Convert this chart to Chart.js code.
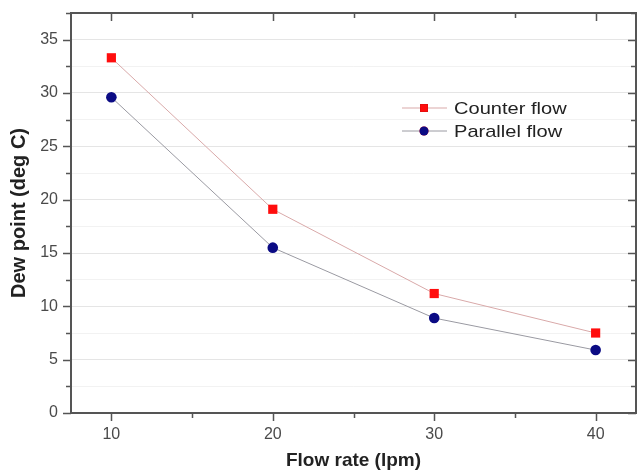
<!DOCTYPE html>
<html>
<head>
<meta charset="utf-8">
<script src="https://cdn.jsdelivr.net/npm/chart.js@4"></script>
<style>
  body { margin: 0; background: #fff; }
  #wrap { width: 644px; height: 472px; }
</style>
</head>
<body>
<div id="wrap"><canvas id="dewChart" width="644" height="472"></canvas></div>
<script>
const flowRates = [10, 20, 30, 40];
const counterFlow = [33.3, 19.1, 11.2, 7.5];
const parallelFlow = [29.6, 15.5, 8.9, 5.9];
const yTicks = [0, 5, 10, 15, 20, 25, 30, 35];
const xTicks = [10, 20, 30, 40];

const FONT = "'Liberation Sans', Arial, sans-serif";

function toPoints(values) {
  return flowRates.map((x, i) => ({ x: x, y: values[i] }));
}

// frame, ticks (outside on left/bottom, inside on top/right) and legend
const framePlugin = {
  id: "frame",
  afterDraw(chart) {
    const ctx = chart.ctx;
    const area = chart.chartArea;
    const xs = chart.scales.x;
    const ys = chart.scales.y;
    ctx.save();
    ctx.strokeStyle = "#555";
    ctx.lineWidth = 2;
    ctx.strokeRect(area.left, area.top, area.right - area.left, area.bottom - area.top);

    ctx.lineWidth = 1.5;
    ctx.beginPath();
    for (let v = 0; v <= 37.5; v += 2.5) {
      const y = Math.round(ys.getPixelForValue(v)) + 0.5;
      const len = v % 5 === 0 ? 8 : 5;
      ctx.moveTo(area.left, y); ctx.lineTo(area.left - len, y);
      ctx.moveTo(area.right, y); ctx.lineTo(area.right - len, y);
    }
    for (let v = 10; v <= 40; v += 5) {
      const x = Math.round(xs.getPixelForValue(v)) + 0.5;
      const len = v % 10 === 0 ? 8 : 5;
      ctx.moveTo(x, area.bottom); ctx.lineTo(x, area.bottom + len);
      ctx.moveTo(x, area.top); ctx.lineTo(x, area.top + len);
    }
    ctx.stroke();

    // legend (text slightly stretched like the original)
    const legendX = 402;
    chart.data.datasets.forEach((ds, i) => {
      const y = 108 + i * 23;
      ctx.strokeStyle = ds.borderColor;
      ctx.lineWidth = 1;
      ctx.beginPath();
      ctx.moveTo(legendX, y);
      ctx.lineTo(legendX + 45, y);
      ctx.stroke();
      Chart.helpers.drawPoint(ctx, {
        pointStyle: ds.pointStyle,
        radius: ds.pointRadius * 0.85,
        borderWidth: 0
      }, legendX + 22, y);
      ctx.fillStyle = ds.pointBackgroundColor;
      ctx.fill();
      ctx.save();
      ctx.translate(legendX + 52, y + 1);
      ctx.scale(1.18, 1);
      ctx.fillStyle = "#222";
      ctx.font = "17px " + FONT;
      ctx.textBaseline = "middle";
      ctx.fillText(ds.label, 0, 0);
      ctx.restore();
    });
    ctx.restore();
  }
};

new Chart(document.getElementById("dewChart"), {
  type: "line",
  data: {
    datasets: [
      {
        label: "Counter flow",
        data: toPoints(counterFlow),
        borderColor: "#d9a9a9",
        borderWidth: 1,
        pointStyle: "rect",
        pointRadius: 6.5,
        pointBackgroundColor: "#ff0d0d",
        pointBorderWidth: 0
      },
      {
        label: "Parallel flow",
        data: toPoints(parallelFlow),
        borderColor: "#9a9aa2",
        borderWidth: 1,
        pointStyle: "circle",
        pointRadius: 5.3,
        pointBackgroundColor: "#0b0b84",
        pointBorderWidth: 0
      }
    ]
  },
  options: {
    responsive: false,
    animation: false,
    layout: { padding: { top: 13, right: 8, left: 0, bottom: 0 } },
    plugins: { legend: { display: false }, tooltip: { enabled: false } },
    scales: {
      x: {
        type: "linear",
        min: 7.5,
        max: 42.5,
        afterFit(scale) {
          scale.height = 59;
          scale.paddingLeft = 0;
          scale.paddingRight = 0;
        },
        afterBuildTicks(scale) { scale.ticks = xTicks.map(v => ({ value: v })); },
        grid: { display: false, drawTicks: false },
        border: { display: false },
        ticks: { color: "#4a4a4a", font: { family: FONT, size: 16 }, padding: 12 },
        title: {
          display: true,
          text: "Flow rate (lpm)",
          color: "#222",
          font: { family: FONT, size: 19, weight: "bold" },
          padding: { top: 9, bottom: 0 }
        }
      },
      y: {
        min: 0,
        max: 37.5,
        afterFit(scale) {
          scale.width = 71;
          scale.paddingTop = 0;
          scale.paddingBottom = 0;
        },
        afterBuildTicks(scale) {
          const t = [];
          for (let v = 0; v <= 37.5; v += 2.5) t.push({ value: v });
          scale.ticks = t;
        },
        grid: {
          drawTicks: false,
          color: ctx => (ctx.tick && ctx.tick.value % 5 === 0) ? "rgba(0,0,0,0.10)" : "rgba(0,0,0,0.05)"
        },
        border: { display: false },
        ticks: {
          color: "#4a4a4a",
          font: { family: FONT, size: 16 },
          padding: 13,
          callback: v => (v % 5 === 0 && yTicks.includes(v)) ? String(v) : ""
        },
        title: {
          display: true,
          text: "Dew point (deg C)",
          color: "#222",
          font: { family: FONT, size: 20, weight: "bold" },
          padding: { top: 7, bottom: 0 }
        }
      }
    }
  },
  plugins: [framePlugin]
});
</script>
</body>
</html>
